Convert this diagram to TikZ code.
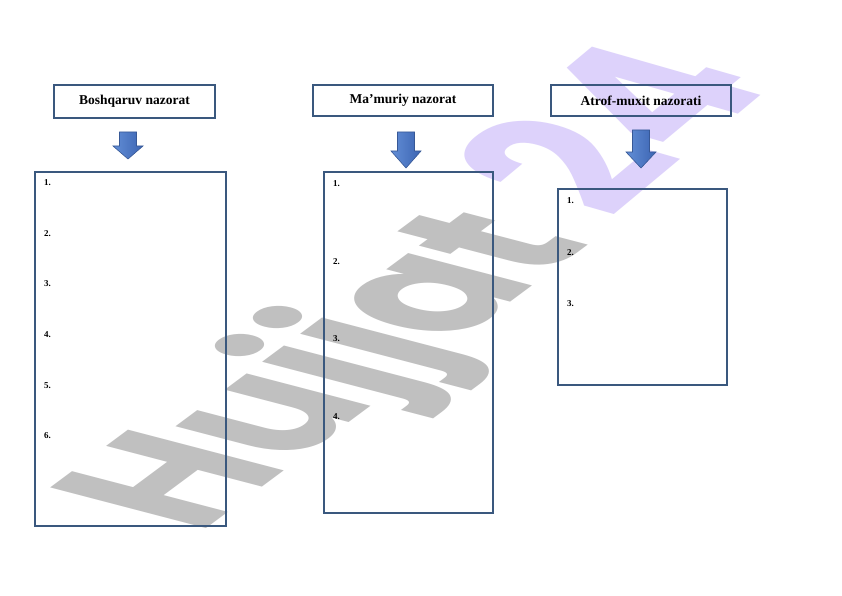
\documentclass[tikz,border=0pt]{standalone}
\usepackage{fontspec}
\setmainfont{Liberation Serif}
\newfontfamily\wmfont{Poppins}
\definecolor{boxblue}{RGB}{58,88,126}
\definecolor{arrowlight}{RGB}{98,142,214}
\definecolor{arrowdark}{RGB}{60,100,178}
\definecolor{arrowedge}{RGB}{55,88,150}
\definecolor{wmgray}{RGB}{192,192,192}
\definecolor{wmlav}{RGB}{221,210,251}
\begin{document}
\begin{tikzpicture}[x=1pt,y=-1pt,
  titlebox/.style={draw=boxblue, line width=1.4pt, inner sep=0pt,
    font=\bfseries\fontsize{13.5}{16}\selectfont},
  listbox/.style={draw=boxblue, line width=1.4pt, inner sep=0pt},
  num/.style={anchor=west, inner sep=0pt, font=\bfseries\fontsize{9}{10}\selectfont},
  wmtext/.style={anchor=base west, inner sep=0pt, transform shape,
    font=\wmfont\bfseries\fontsize{10}{12}\selectfont},
  blockarrow/.style={left color=arrowlight, right color=arrowdark, draw=arrowedge, line width=0.6pt, line join=miter}
]
\useasboundingbox (0,0) rectangle (842,596);
\fill[white] (0,0) rectangle (842,596);

% watermark
\begin{scope}[cm={12.8,9.5,-22.2,5.8,(196,536)}]
\node[wmtext, text=wmgray] (wm1) at (0,0) {Hujjat};
\end{scope}
\begin{scope}[cm={13.2,11.0,-23.4,6.7,(609,222)}]
\node[wmtext, text=wmlav] (wm2) at (0,0) {24};
\end{scope}

% title boxes
\node[titlebox, minimum width=161pt, minimum height=33pt] (t1) at (134.5,101.5) {Boshqaruv nazorat};
\node[titlebox, minimum width=180pt, minimum height=31pt] (t2) at (403,100.5) {Ma’muriy nazorat};
\node[titlebox, minimum width=180pt, minimum height=31pt] (t3) at (641,100.5) {Atrof-muxit nazorati};

% list boxes
\node[listbox, minimum width=191pt, minimum height=354pt] (b1) at (130.5,349) {};
\node[listbox, minimum width=169pt, minimum height=341pt] (b2) at (408.5,342.5) {};
\node[listbox, minimum width=169pt, minimum height=196pt] (b3) at (642.5,287) {};

% block arrows
\newcommand\blockarr[4]{%
  \path[blockarrow] (#1-8.5,#2) -- (#1+8.5,#2) -- (#1+8.5,#3) -- (#1+15,#3)
    -- (#1,#4) -- (#1-15,#3) -- (#1-8.5,#3) -- cycle;}
\blockarr{128}{132}{146}{159}
\blockarr{406}{132}{151}{168}
\blockarr{641}{130}{152}{168}

% numbers
\node[num] (n11) at (44,183) {1.};
\node[num] (n12) at (44,234) {2.};
\node[num] (n13) at (44,284) {3.};
\node[num] (n14) at (44,335) {4.};
\node[num] (n15) at (44,386) {5.};
\node[num] (n16) at (44,436) {6.};
\node[num] (n21) at (333,184) {1.};
\node[num] (n22) at (333,262) {2.};
\node[num] (n23) at (333,339) {3.};
\node[num] (n24) at (333,417) {4.};
\node[num] (n31) at (567,201) {1.};
\node[num] (n32) at (567,253) {2.};
\node[num] (n33) at (567,304) {3.};
\end{tikzpicture}
\end{document}
